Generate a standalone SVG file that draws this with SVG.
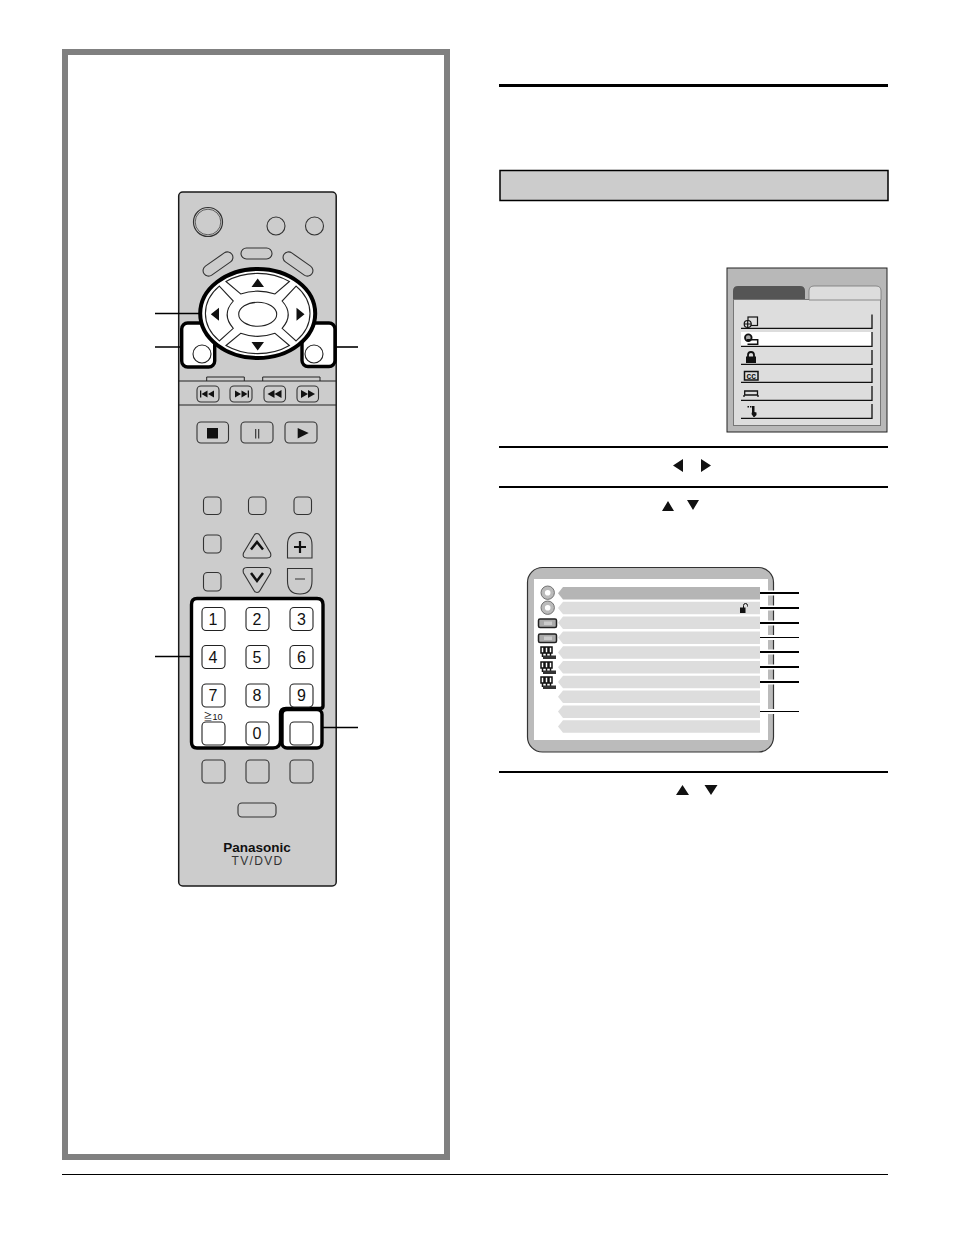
<svg xmlns="http://www.w3.org/2000/svg" width="954" height="1235" viewBox="0 0 954 1235">
<style>
.b{fill:#ccc;stroke:#333;stroke-width:1.1}
.w{fill:#fff;stroke:#222;stroke-width:1.1}
.k{fill:#111;stroke:none}
.hl{fill:#fff;stroke:#000;stroke-width:3.4}
.n{font-family:"Liberation Sans",Arial,sans-serif;font-size:16px;fill:#111;text-anchor:middle}
.row{fill:#ddd}
.cn{stroke:#000;fill:none;stroke-width:1.6}
.r{stroke:#000;fill:none}
.mr{fill:none;stroke:#111;stroke-width:1.3}
.halo{fill:#fff}
</style>
<rect width="954" height="1235" fill="#fff"/>
<g id="frame"><rect x="65" y="52" width="382" height="1105" fill="#fff" stroke="#808080" stroke-width="6"/></g>

<g id="remote">
<rect x="178.700" y="192" width="157.500" height="694" rx="4" fill="#ccc" stroke="#1a1a1a" stroke-width="1.500"/>
<circle cx="208" cy="222" r="14.500" fill="#ccc" stroke="#333" stroke-width="1.200"/>
<circle cx="208" cy="222" r="12.800" fill="none" stroke="#555" stroke-width="0.900"/>
<circle class="b" cx="276" cy="226" r="9"/>
<circle class="b" cx="314.500" cy="226" r="9"/>
<rect class="b" x="241" y="248" width="31" height="11" rx="5.500"/>
<rect class="b" x="201" y="258.500" width="34" height="11" rx="5.500" transform="rotate(-35 218 264)"/>
<rect class="b" x="281" y="258.500" width="34" height="11" rx="5.500" transform="rotate(35 298 264)"/>
<g id="nav-highlight">
<rect class="hl" x="181.700" y="323" width="33" height="44" rx="6"/>
<rect class="hl" x="302" y="323" width="33" height="43.500" rx="6"/>
<circle class="w" cx="202" cy="354" r="9"/>
<circle class="w" cx="314" cy="354" r="9"/>
<ellipse cx="257.700" cy="313.500" rx="57.500" ry="44.500" fill="#fff" stroke="#000" stroke-width="4"/>
<path class="w" d="M226 281.500A52.700 40.500 0 0 1 289.400 281.500L275 294Q257.700 288.300 240.700 294Z"/>
<path class="w" d="M226 345.500A52.700 40.500 0 0 0 289.400 345.500L275 333.300Q257.700 339.500 240.700 333.300Z"/>
<path class="w" d="M219.300 286.100L233.300 301Q221 314.500 233.300 328.300L219.300 340.900A52.700 40.500 0 0 1 219.300 286.100Z"/>
<path class="w" d="M296.100 286.100L282.100 301Q294.400 314.500 282.100 328.300L296.100 340.900A52.700 40.500 0 0 0 296.100 286.100Z"/>
<ellipse class="w" cx="257.700" cy="314.300" rx="19" ry="12"/>
<path class="k" d="M257.700 278.500L251.500 287H264ZM257.700 350.500L251.500 342H264ZM210.800 314.300L219 307.700V320.700ZM304.500 314.300L296.500 307.700V320.700Z"/>
</g>
<path d="M206.700 381V377H244.300V381M262.700 381V377H320V381" fill="none" stroke="#222" stroke-width="1"/>
<path d="M179 381H336M179 405H336" stroke="#222" stroke-width="1" fill="none"/>
<g id="transport">
<rect class="b" x="197" y="386" width="22" height="16" rx="4"/>
<rect class="b" x="230" y="386" width="22" height="16" rx="4"/>
<rect class="b" x="264" y="386" width="21.500" height="16" rx="4"/>
<rect class="b" x="297" y="386" width="21.500" height="16" rx="4"/>
<path class="k" d="M200 390.500h1.300v7h-1.300ZM201.500 394l6-3.500v7ZM208 394l6-3.500v7ZM249 390.500h-1.300v7h1.300ZM247.500 394l-6-3.500v7ZM241 394l-6-3.500v7ZM267.500 394l7-4v8ZM274.500 394l7-4v8ZM315 394l-7-4v8ZM308 394l-7-4v8Z"/>
<rect class="b" x="197" y="422" width="31.500" height="21" rx="4"/>
<rect class="b" x="241" y="422" width="32" height="21" rx="4"/>
<rect class="b" x="285" y="422" width="32" height="21" rx="4"/>
<rect class="k" x="207" y="428" width="11" height="10.500"/>
<path d="M255 429h1.300v9.500H255ZM258 429h1.300v9.500H258Z" fill="#444"/>
<path class="k" d="M297.700 428l11 5-11 5.500Z"/>
</g>
<g id="middle">
<rect class="b" x="203.500" y="497" width="17.500" height="17.500" rx="4"/>
<rect class="b" x="248.500" y="497" width="17.500" height="17.500" rx="4"/>
<rect class="b" x="294" y="497" width="17.500" height="17.500" rx="4"/>
<rect class="b" x="203.500" y="535" width="17.500" height="18" rx="4"/>
<rect class="b" x="203.500" y="572.500" width="17.500" height="18.500" rx="4"/>
<path class="b" d="M257 533.500Q259 533.500 260 535.500L270.500 553Q272 558 267 558H247Q242 558 243.500 553L254 535.500Q255 533.500 257 533.500Z"/>
<path class="b" d="M257 592.500Q259 592.500 260 590.500L270.500 573Q272 567.500 267 567.500H247Q242 567.500 243.500 573L254 590.500Q255 592.500 257 592.500Z"/>
<path d="M251 549.500L257 542L263 549.500M251 573L257 581L263 573" fill="none" stroke="#111" stroke-width="2.500"/>
<path class="b" d="M287.500 558V545Q287.500 532.500 300 532.500Q312 532.500 312 545V558Z"/>
<path class="b" d="M287.500 568.500V581Q287.500 594 300 594Q312 594 312 581V568.500Z"/>
<path d="M294 547H306M300 541V553" stroke="#111" stroke-width="2.200" fill="none"/>
<path d="M295 579H305" stroke="#333" stroke-width="1" fill="none"/>
</g>
<g id="numpad">
<path class="hl" d="M197 598.500H317Q323 598.500 323 604.500V706Q323 708.500 320 708.500H286Q280.500 708.500 280.500 714V740Q280.500 748 273 748H197Q191.500 748 191.500 742V604.500Q191.500 598.500 197 598.500Z"/>
<rect class="hl" x="282" y="709.500" width="40" height="38.500" rx="5"/>
<g fill="#fff" stroke="#222" stroke-width="1.100">
<rect x="202" y="607.500" width="23" height="23" rx="4"/>
<rect x="246" y="607.500" width="23" height="23" rx="4"/>
<rect x="290" y="607.500" width="23" height="23" rx="4"/>
<rect x="202" y="645.500" width="23" height="23" rx="4"/>
<rect x="246" y="645.500" width="23" height="23" rx="4"/>
<rect x="290" y="645.500" width="23" height="23" rx="4"/>
<rect x="202" y="684" width="23" height="23" rx="4"/>
<rect x="246" y="684" width="23" height="23" rx="4"/>
<rect x="290" y="684" width="23" height="23" rx="4"/>
<rect x="202" y="722" width="23" height="23" rx="4"/>
<rect x="246" y="722" width="23" height="23" rx="4"/>
<rect x="290" y="722" width="23" height="23" rx="4"/>
</g>
<text class="n" x="213" y="624.500">1</text>
<text class="n" x="257" y="624.500">2</text>
<text class="n" x="301.500" y="624.500">3</text>
<text class="n" x="213" y="663">4</text>
<text class="n" x="257" y="663">5</text>
<text class="n" x="301.500" y="663">6</text>
<text class="n" x="213" y="701">7</text>
<text class="n" x="257" y="701">8</text>
<text class="n" x="301.500" y="701">9</text>
<text class="n" x="257" y="739">0</text>
<text x="213" y="719.500" font-family="'Liberation Sans','Noto Sans CJK JP',sans-serif" font-size="9" fill="#111" text-anchor="middle">≧10</text>
</g>
<g id="lower">
<rect class="b" x="202" y="760" width="23" height="23" rx="4"/>
<rect class="b" x="246" y="760" width="23" height="23" rx="4"/>
<rect class="b" x="290" y="760" width="23" height="23" rx="4"/>
<rect class="b" x="238" y="803" width="38" height="14" rx="4"/>
<text x="257" y="851.500" font-family="'Liberation Sans',Arial,sans-serif" font-size="13.500" font-weight="700" fill="#111" text-anchor="middle">Panasonic</text>
<text x="257.500" y="864.500" font-family="'Liberation Sans',Arial,sans-serif" font-size="12" fill="#333" text-anchor="middle" letter-spacing="1.300">TV/DVD</text>
</g>
</g>

<g id="page-rules">
<path class="r" stroke-width="3" d="M499 85.500H888"/>
<rect x="500" y="170.500" width="388" height="30" fill="#ccc" stroke="#000" stroke-width="1.500"/>
<path class="r" stroke-width="2" d="M499 447H888M499 487H888M499 772H888"/>
<path class="r" stroke-width="1" d="M62 1174.500H888"/>
<path class="k" d="M673 465.500l10-6.500v13ZM711 465.500l-10-6.500v13ZM668 501l6 10h-12ZM693 510l-6-10h12ZM682.500 785l6.500 10h-13ZM711 795l-6.500-10h13Z"/>
</g>

<g id="menu">
<rect x="727" y="268" width="160" height="164" fill="#b8b8b8" stroke="#222" stroke-width="1"/>
<rect x="733.500" y="299.500" width="147" height="126" fill="#ddd" stroke="#777" stroke-width="1"/>
<path d="M733 299V291Q733 286 738 286H800Q805 286 805 291V299Z" fill="#555"/>
<path d="M809 300V291Q809 286 814 286H876Q881 286 881 291V300Z" fill="#ddd" stroke="#777" stroke-width="0.800"/>
<rect x="741" y="332" width="131" height="14" fill="#fff"/>
<path class="mr" d="M741 328.300H872V314.500M741 346.300H872V332M741 364.300H872V350M741 382.300H872V368M741 400.300H872V386M741 418.300H872V404"/>
<g fill="none" stroke="#111" stroke-width="1.200">
<rect x="748" y="317" width="9.500" height="8.500"/>
<circle cx="747.700" cy="324" r="3.500" fill="#ddd"/>
<path d="M744 324H751.500M747.700 320.500V327.500"/>
<rect x="744.500" y="371.500" width="13.500" height="8.500" stroke-width="1.500"/>
</g>
<circle cx="748.300" cy="337.700" r="3.300" fill="#aaa" stroke="#111" stroke-width="1.800"/>
<path d="M747 339.800H757.700V344.300H747.500" fill="none" stroke="#111" stroke-width="1.500"/>
<rect class="k" x="746" y="356.500" width="10" height="6.500"/>
<path d="M748 357V355a3 3 0 0 1 6 0v2" fill="none" stroke="#111" stroke-width="1.800"/>
<text x="751.200" y="378.500" font-family="'Liberation Mono',monospace" font-size="8" font-weight="700" fill="#111" text-anchor="middle">CC</text>
<path d="M744.700 391H757.500V395H744.700Z" fill="#ddd" stroke="#111" stroke-width="1.300"/>
<path d="M744 397V395M758 397V395" stroke="#111" stroke-width="1.300"/>
<path class="k" d="M747.500 406h1.500v1.500H747.500ZM750 406h1.500v1.500H750ZM752 406h2.500v6l2 .5v2.500l-2 2h-1l-2-3 .5-2Z"/>
</g>

<g id="screen">
<rect x="527.500" y="567.500" width="246" height="184.500" rx="15" fill="#bbb" stroke="#333" stroke-width="1.200"/>
<rect x="534" y="579" width="234" height="161" fill="#fff"/>
<g id="screen-rows">
<path fill="#b5b5b5" d="M558 593.200L563 587H760V599.500H563Z"/>
<path class="row" d="M558 608L563 601.800H760V614.300H563Z"/>
<path class="row" d="M558 622.800L563 616.600H760V629.100H563Z"/>
<path class="row" d="M558 637.600L563 631.400H760V643.900H563Z"/>
<path class="row" d="M558 652.400L563 646.200H760V658.700H563Z"/>
<path class="row" d="M558 667.200L563 661H760V673.500H563Z"/>
<path class="row" d="M558 682L563 675.800H760V688.300H563Z"/>
<path class="row" d="M558 696.800L563 690.600H760V703.100H563Z"/>
<path class="row" d="M558 711.600L563 705.400H760V717.900H563Z"/>
<path class="row" d="M558 726.400L563 720.200H760V732.700H563Z"/>
</g>
<g id="screen-icons">
<circle cx="547.700" cy="592.700" r="6.700" fill="#bbb" stroke="#666" stroke-width="0.900"/>
<circle cx="547.700" cy="592.700" r="2.800" fill="#fff"/>
<circle cx="547.700" cy="607.700" r="6.700" fill="#bbb" stroke="#666" stroke-width="0.900"/>
<circle cx="547.700" cy="607.700" r="2.800" fill="#fff"/>
<rect x="538.500" y="619" width="18" height="8.500" rx="1.500" fill="#aaa" stroke="#222" stroke-width="1.500"/>
<rect x="544" y="621.500" width="8" height="3.500" fill="#ccc"/>
<rect x="538.500" y="634" width="18" height="8.500" rx="1.500" fill="#aaa" stroke="#222" stroke-width="1.500"/>
<rect x="544" y="636.500" width="8" height="3.500" fill="#ccc"/>
<g fill="none" stroke="#111" stroke-width="1.500">
<path d="M541 647h3v6h-3ZM545 647h3v6h-3ZM549 647h3v6h-3ZM542.500 653v4M546.500 653v4M550.500 653v4"/>
<path d="M541 662h3v6h-3ZM545 662h3v6h-3ZM549 662h3v6h-3ZM542.500 668v4M546.500 668v4M550.500 668v4"/>
<path d="M541 677h3v6h-3ZM545 677h3v6h-3ZM549 677h3v6h-3ZM542.500 683v4M546.500 683v4M550.500 683v4"/>
</g>
<rect x="543" y="655.500" width="13" height="3.500" fill="#333"/>
<rect x="543" y="670.500" width="13" height="3.500" fill="#333"/>
<rect x="543" y="685.500" width="13" height="3.500" fill="#333"/>
<rect class="k" x="740" y="607.500" width="5.500" height="5.500"/>
<path d="M743.500 608V605.500a2 2 0 0 1 4 0v1" fill="none" stroke="#111" stroke-width="1"/>
</g>
<g id="screen-halos">
<rect class="halo" x="767" y="590.500" width="9" height="5"/>
<rect class="halo" x="767" y="605.500" width="9" height="5"/>
<rect class="halo" x="767" y="620.500" width="9" height="5"/>
<rect class="halo" x="767" y="635" width="9" height="5"/>
<rect class="halo" x="767" y="649.500" width="9" height="5"/>
<rect class="halo" x="767" y="664.500" width="9" height="5"/>
<rect class="halo" x="767" y="679.500" width="9" height="5"/>
<rect class="halo" x="767" y="709" width="9" height="5"/>
</g>
</g>

<g id="connectors">
<path class="cn" d="M155 313.500H199M155 347H182M155 656.500H191M323 727.500H358"/>
<path class="cn" stroke-width="2" d="M336 347H358"/>
<path d="M760 593H799M760 608H799M760 623H799M760 652H799M760 667H799M760 682H799" fill="none" stroke="#000" stroke-width="2"/>
<path d="M760 637.500H799M760 711.500H799" fill="none" stroke="#000" stroke-width="1"/>
</g>
</svg>
